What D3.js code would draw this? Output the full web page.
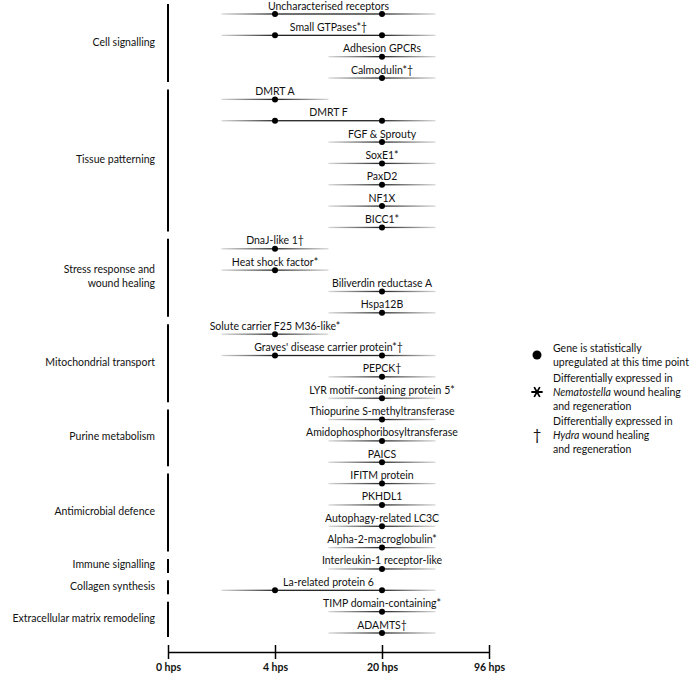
<!DOCTYPE html>
<html><head><meta charset="utf-8">
<script src="https://cdn.jsdelivr.net/npm/d3@7"></script>
<style>
body{margin:0;background:#fff}
svg text{font-family:Lato,"Liberation Sans","DejaVu Sans",sans-serif;fill:#111}
</style>
</head><body>
<svg id="chart" width="697" height="675"></svg>
<script>
const timePoints = ["0 hps", "4 hps", "20 hps", "96 hps"];

const genes = [
  "Uncharacterised receptors", "Small GTPases*†", "Adhesion GPCRs", "Calmodulin*†",
  "DMRT A", "DMRT F", "FGF & Sprouty", "SoxE1*", "PaxD2", "NF1X", "BICC1*",
  "DnaJ-like 1†", "Heat shock factor*", "Biliverdin reductase A", "Hspa12B",
  "Solute carrier F25 M36-like*", "Graves' disease carrier protein*†", "PEPCK†", "LYR motif-containing protein 5*",
  "Thiopurine S-methyltransferase", "Amidophosphoribosyltransferase", "PAICS",
  "IFITM protein", "PKHDL1", "Autophagy-related LC3C", "Alpha-2-macroglobulin*",
  "Interleukin-1 receptor-like",
  "La-related protein 6",
  "TIMP domain-containing*", "ADAMTS†"
];

const geneUpregulated = [
  ["4 hps","20 hps"], ["4 hps","20 hps"], ["20 hps"], ["20 hps"],
  ["4 hps"], ["4 hps","20 hps"], ["20 hps"], ["20 hps"], ["20 hps"], ["20 hps"], ["20 hps"],
  ["4 hps"], ["4 hps"], ["20 hps"], ["20 hps"],
  ["4 hps"], ["4 hps","20 hps"], ["20 hps"], ["20 hps"],
  ["20 hps"], ["20 hps"], ["20 hps"],
  ["20 hps"], ["20 hps"], ["20 hps"], ["20 hps"],
  ["20 hps"],
  ["4 hps","20 hps"],
  ["20 hps"], ["20 hps"]
];

const groupLabels = [
  ["Cell signalling"], ["Tissue patterning"], ["Stress response and", "wound healing"],
  ["Mitochondrial transport"], ["Purine metabolism"], ["Antimicrobial defence"],
  ["Immune signalling"], ["Collagen synthesis"], ["Extracellular matrix remodeling"]
];
const groupSizes = [4, 7, 4, 4, 3, 4, 1, 1, 2];

const legendItems = [
  ["Gene is statistically", "upregulated at this time point"],
  ["Differentially expressed in", "|Nematostella| wound healing", "and regeneration"],
  ["Differentially expressed in", "|Hydra| wound healing", "and regeneration"]
];

const svg = d3.select("#chart");
const x = d3.scalePoint().domain(timePoints).range([168, 489]);
const y = d3.scalePoint().domain(genes).range([14, 633]);
const half = x.step() / 2;
const FS = 10.5;

const defs = svg.append("defs");

// gene rows
const rows = svg.append("g").selectAll("g").data(genes).join("g");
rows.each(function(name, i) {
  const g = d3.select(this);
  const pts = geneUpregulated[i].map(t => x(t));
  const x0 = d3.min(pts) - half, x1 = d3.max(pts) + half;
  const yy = y(name);
  const gid = "grad" + i;
  const grad = defs.append("linearGradient").attr("id", gid)
    .attr("gradientUnits", "userSpaceOnUse")
    .attr("x1", x0).attr("x2", x1).attr("y1", 0).attr("y2", 0);
  const fa = (d3.min(pts) - x0) / (x1 - x0), fb = (d3.max(pts) - x0) / (x1 - x0);
  grad.append("stop").attr("offset", 0).attr("stop-color", "#d8d8d8");
  grad.append("stop").attr("offset", fa).attr("stop-color", "#222");
  grad.append("stop").attr("offset", fb).attr("stop-color", "#222");
  grad.append("stop").attr("offset", 1).attr("stop-color", "#d8d8d8");
  g.append("rect").attr("x", x0).attr("y", yy - 0.65).attr("width", x1 - x0).attr("height", 1.3)
    .attr("fill", `url(#${gid})`);
  g.selectAll("circle").data(pts).join("circle")
    .attr("cx", d => d).attr("cy", yy).attr("r", 3).attr("fill", "#000");
  g.append("text").attr("x", (x0 + x1) / 2).attr("y", yy - 4.5)
    .attr("text-anchor", "middle").attr("font-size", FS).text(name);
});

// group brackets
let start = 0;
const gg = svg.append("g");
groupSizes.forEach((n, k) => {
  const top = y(genes[start]) - 10, bot = y(genes[start + n - 1]) + 4;
  gg.append("line").attr("x1", 168).attr("x2", 168).attr("y1", top).attr("y2", bot)
    .attr("stroke", "#000").attr("stroke-width", 2);
  const lines = groupLabels[k];
  const mid = (top + bot) / 2;
  const t = gg.append("text").attr("text-anchor", "end").attr("font-size", FS);
  lines.forEach((l, j) => {
    t.append("tspan").attr("x", 155)
      .attr("y", mid + 2.5 + (j - (lines.length - 1) / 2) * 14).text(l);
  });
  start += n;
});

// axis
const ax = svg.append("g").attr("transform", "translate(0,652)")
  .call(d3.axisBottom(x).tickSizeInner(7).tickSizeOuter(0).tickPadding(5));
ax.select(".domain").attr("stroke", "#000").attr("stroke-width", 1.5);
ax.selectAll(".tick line").attr("y1", -7).attr("stroke", "#000").attr("stroke-width", 1.5);
ax.selectAll(".tick text").attr("font-family", "Lato, sans-serif").attr("font-size", FS)
  .attr("font-weight", "bold").attr("fill", "#000");

// legend
const lg = svg.append("g");
const legY = [355, 392, 435];
legendItems.forEach((lines, k) => {
  const cy = legY[k];
  lines.forEach((l, j) => {
    const t = lg.append("text").attr("x", 553).attr("font-size", FS)
      .attr("y", cy + 3.5 + (j - (lines.length - 1) / 2) * 14);
    l.split("|").forEach((part, p) => {
      if (part) t.append("tspan").attr("font-style", p % 2 ? "italic" : "normal").text(part);
    });
  });
});
lg.append("circle").attr("cx", 537).attr("cy", legY[0]).attr("r", 4.5).attr("fill", "#000");
const ast = lg.append("g").attr("transform", `translate(537,${legY[1]})`);
[0, 60, 120].forEach(a => {
  const r = 5, rad = a * Math.PI / 180;
  ast.append("line").attr("x1", -r * Math.cos(rad)).attr("y1", -r * Math.sin(rad))
    .attr("x2", r * Math.cos(rad)).attr("y2", r * Math.sin(rad))
    .attr("stroke", "#000").attr("stroke-width", 1.8).attr("stroke-linecap", "round");
});
lg.append("text").attr("x", 537).attr("y", legY[2] + 5).attr("text-anchor", "middle")
  .attr("font-family", "'Liberation Sans', sans-serif").attr("font-size", 15).text("†");
</script>
</body></html>
